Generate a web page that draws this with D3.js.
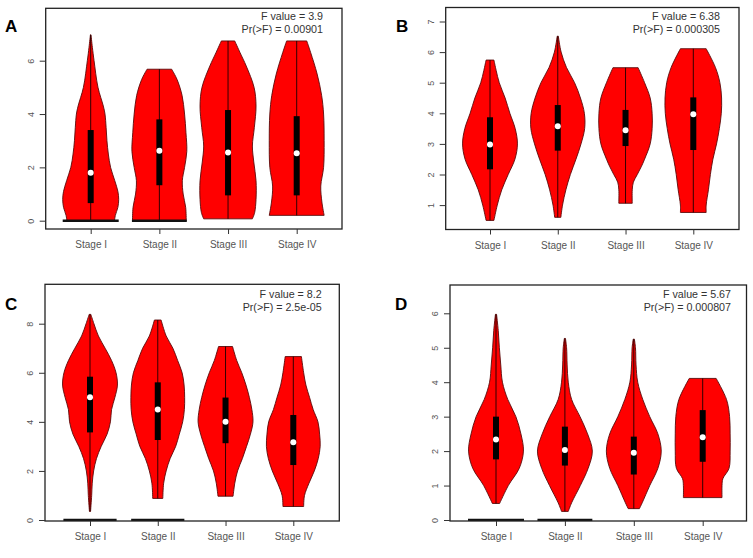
<!DOCTYPE html>
<html><head><meta charset="utf-8">
<script src="https://cdn.jsdelivr.net/npm/d3@7/dist/d3.min.js"></script>
<style>body{margin:0;background:#fff}svg{display:block}</style>
</head><body>
<svg id="c" width="753" height="558"></svg>
<script>
// ---------- DATA ----------
const stages = ["Stage I", "Stage II", "Stage III", "Stage IV"];
const panelLabels = ["A", "B", "C", "D"];
const fValues = ["3.9", "6.38", "8.2", "5.67"];
const pValues = ["0.00901", "0.000305", "2.5e-05", "0.000807"];
const yTicksA = [0, 2, 4, 6];
const yTicksB = [1, 2, 3, 4, 5, 6, 7];
const yTicksC = [0, 2, 4, 6, 8];
const yTicksD = [0, 1, 2, 3, 4, 5, 6];

// violin profiles: [value, relative half-width]
const violinA = [
  [[0,0.85],[0.2,0.88],[0.5,0.97],[0.8,1.0],[1.1,0.97],[1.5,0.86],[2.0,0.71],[2.5,0.63],[3.0,0.58],[3.5,0.55],[4.0,0.51],[4.3,0.45],[5.0,0.26],[6.0,0.12],[6.5,0.06],[6.97,0.01]],
  [[0,0.96],[0.5,0.94],[1.0,0.85],[1.5,0.82],[2.0,0.9],[2.6,0.98],[3.3,0.95],[4.0,0.9],[4.7,0.81],[5.3,0.63],[5.68,0.44]],
  [[0.07,0.87],[0.3,0.95],[0.8,1.0],[1.5,1.0],[2.2,0.92],[2.8,0.87],[3.5,0.94],[4.3,1.0],[5.0,0.93],[5.8,0.65],[6.3,0.43],[6.74,0.24]],
  [[0.2,0.98],[0.7,0.9],[1.3,0.86],[2.0,0.96],[3.0,0.98],[4.0,0.96],[4.7,0.89],[5.5,0.73],[6.3,0.5],[6.74,0.36]]
];
const violinB = [
  [[0.5,0.14],[1.0,0.26],[1.5,0.42],[2.0,0.65],[2.5,0.89],[3.0,0.98],[3.5,0.9],[4.0,0.71],[4.5,0.54],[5.0,0.33],[5.4,0.22],[5.74,0.14]],
  [[0.6,0.11],[1.0,0.17],[1.5,0.29],[2.0,0.45],[2.5,0.65],[3.0,0.83],[3.5,0.96],[4.0,0.95],[4.5,0.81],[5.0,0.6],[5.5,0.31],[6.0,0.12],[6.52,0.02]],
  [[1.06,0.24],[1.5,0.24],[1.75,0.28],[2.0,0.42],[2.25,0.56],[2.5,0.68],[3.0,0.88],[3.5,0.95],[4.0,0.95],[4.5,0.88],[5.0,0.68],[5.49,0.45]],
  [[0.76,0.46],[1.0,0.46],[1.5,0.54],[2.0,0.61],[2.5,0.7],[3.0,0.83],[3.5,0.93],[4.0,1.0],[4.5,1.01],[5.0,0.95],[5.5,0.79],[6.11,0.46]]
];
const violinC = [
  [[0.35,0.02],[1.0,0.06],[1.5,0.08],[2.0,0.13],[2.5,0.23],[3.0,0.4],[3.5,0.61],[4.0,0.73],[4.5,0.77],[5.0,0.89],[5.5,0.98],[6.0,0.93],[6.5,0.77],[7.0,0.54],[7.5,0.3],[8.0,0.14],[8.38,0.03]],
  [[0.88,0.18],[1.5,0.21],[2.0,0.3],[2.5,0.44],[3.0,0.64],[3.5,0.77],[4.0,0.89],[4.5,0.95],[5.0,0.96],[5.5,0.94],[6.0,0.87],[6.5,0.71],[7.0,0.54],[7.5,0.3],[8.15,0.12]],
  [[0.97,0.27],[1.5,0.33],[2.0,0.43],[2.5,0.6],[3.0,0.75],[3.5,0.89],[4.0,0.98],[4.5,0.94],[5.0,0.85],[5.5,0.73],[6.0,0.58],[6.5,0.4],[7.07,0.25]],
  [[0.55,0.37],[1.0,0.4],[1.5,0.56],[2.0,0.75],[2.5,0.89],[3.0,0.96],[3.5,0.94],[4.0,0.88],[4.5,0.71],[5.0,0.58],[5.5,0.45],[6.0,0.37],[6.66,0.29]]
];
const violinD = [
  [[0.48,0.13],[1.0,0.44],[1.5,0.83],[2.0,0.98],[2.5,0.89],[3.0,0.71],[3.5,0.42],[4.0,0.23],[4.5,0.17],[5.0,0.12],[5.5,0.08],[5.97,0.02]],
  [[0.25,0.12],[0.5,0.24],[1.0,0.55],[1.5,0.83],[2.0,0.98],[2.5,0.81],[3.0,0.54],[3.5,0.24],[4.0,0.12],[4.5,0.08],[5.0,0.06],[5.27,0.02]],
  [[0.33,0.2],[0.5,0.3],[1.0,0.57],[1.5,0.86],[2.0,0.98],[2.5,0.86],[3.0,0.57],[3.5,0.32],[4.0,0.14],[4.5,0.08],[5.0,0.06],[5.25,0.02]],
  [[0.65,0.69],[1.0,0.69],[1.2,0.72],[1.5,0.94],[2.0,0.98],[2.5,0.98],[3.0,0.96],[3.5,0.85],[4.11,0.48]]
];
// box: [q1, median, q3]
const boxA = [[0.66,1.8,3.4],[1.33,2.62,3.8],[0.95,2.56,4.15],[0.95,2.53,3.92]];
const boxB = [[2.17,2.98,3.87],[2.78,3.58,4.27],[2.93,3.45,4.11],[2.8,3.97,4.52]];
const boxC = [[3.57,5.0,5.84],[3.26,4.5,5.61],[3.13,4.0,4.99],[2.24,3.17,4.28]];
const boxD = [[1.76,2.34,3.0],[1.58,2.03,2.71],[1.32,1.95,2.42],[1.69,2.4,3.19]];
// relative half-width of the black line at zero (0 = none)
const zeroA = [1.0, 0.98, 0, 0];
const zeroB = [0, 0, 0, 0];
const zeroC = [0.95, 0.95, 0, 0];
const zeroD = [1.0, 0.98, 0, 0];

// ---------- LAYOUT ----------
const layouts = [
  {box:[45.7,8.3,342,229], yRef:[[0,220.7],[6,60.7]], xRef:[90.7,296.7], ticks:yTicksA, violins:violinA, boxes:boxA, zero:zeroA, letter:[5,31.5], ann:[323,20,33]},
  {box:[445.7,7.5,739,229.5], yRef:[[1,205.1],[7,21.5]], xRef:[490,693.3], ticks:yTicksB, violins:violinB, boxes:boxB, zero:zeroB, letter:[396,31.5], ann:[720,19.5,32.7]},
  {box:[45,284.3,339.3,521], yRef:[[0,520],[8,323.7]], xRef:[90,293.3], ticks:yTicksC, violins:violinC, boxes:boxC, zero:zeroC, letter:[5,310], ann:[321.7,298.3,311]},
  {box:[450,285,746.5,521], yRef:[[0,520],[6,313.3]], xRef:[496,702.7], ticks:yTicksD, violins:violinD, boxes:boxD, zero:zeroD, letter:[395,310], ann:[731,298.3,311]}
];

const svg = d3.select("#c");
const font = "'Liberation Sans', Arial, sans-serif";

layouts.forEach((L, pi) => {
  const [bx0, by0, bx1, by1] = L.box;
  const y = d3.scaleLinear().domain([L.yRef[0][0], L.yRef[1][0]]).range([L.yRef[0][1], L.yRef[1][1]]);
  const x = d3.scaleLinear().domain([1, 4]).range(L.xRef);
  const hw = 28; // max half-width in px
  const g = svg.append("g");
  const clipId = "clip" + pi;
  g.append("clipPath").attr("id", clipId).append("rect")
    .attr("x", bx0).attr("y", by0).attr("width", bx1 - bx0).attr("height", by1 - by0);
  const plot = g.append("g").attr("clip-path", `url(#${clipId})`);

  L.violins.forEach((prof, i) => {
    const cx = x(i + 1);
    const area = d3.area()
      .y(d => y(d[0]))
      .x0(d => cx - d[1] * hw)
      .x1(d => cx + d[1] * hw)
      .curve(d3.curveCatmullRom.alpha(0.5));
    plot.append("path").datum(prof).attr("d", area)
      .attr("fill", "#ff0000").attr("stroke", "#5a0a0a").attr("stroke-width", 0.9);
    const vmin = prof[0][0], vmax = prof[prof.length - 1][0];
    plot.append("line").attr("x1", cx).attr("x2", cx).attr("y1", y(vmin)).attr("y2", y(vmax))
      .attr("stroke", "#1a0000").attr("stroke-width", 0.9);
    const b = L.boxes[i];
    plot.append("rect").attr("x", cx - 3).attr("width", 6)
      .attr("y", y(b[2])).attr("height", y(b[0]) - y(b[2])).attr("fill", "#000");
    plot.append("circle").attr("cx", cx).attr("cy", y(b[1])).attr("r", 3).attr("fill", "#fff");
    if (L.zero[i] > 0) {
      plot.append("line").attr("x1", cx - L.zero[i] * hw).attr("x2", cx + L.zero[i] * hw)
        .attr("y1", y(0)).attr("y2", y(0)).attr("stroke", "#111").attr("stroke-width", 2.4);
    }
  });

  // frame
  g.append("rect").attr("x", bx0).attr("y", by0).attr("width", bx1 - bx0).attr("height", by1 - by0)
    .attr("fill", "none").attr("stroke", "#222").attr("stroke-width", 1.3);

  // y axis
  const yAxis = d3.axisLeft(y).tickValues(L.ticks).tickSize(6).tickPadding(0).tickFormat(d3.format("d"));
  const ya = g.append("g").attr("transform", `translate(${bx0},0)`).call(yAxis);
  ya.select(".domain").remove();
  ya.selectAll(".tick line").attr("stroke", "#333").attr("stroke-width", 1);
  ya.selectAll(".tick text").attr("x", null).attr("dy", null)
    .attr("text-anchor", "middle")
    .attr("transform", "translate(-15,0) rotate(-90)")
    .attr("dy", "0.35em")
    .attr("font-family", font).attr("font-size", 9).attr("fill", "#555");

  // x axis
  const xAxis = d3.axisBottom(x).tickValues([1, 2, 3, 4]).tickSize(5).tickPadding(7)
    .tickFormat((d) => stages[d - 1]);
  const xa = g.append("g").attr("transform", `translate(0,${by1})`).call(xAxis);
  xa.select(".domain").remove();
  xa.selectAll(".tick line").attr("stroke", "#333").attr("stroke-width", 1);
  xa.selectAll(".tick text").attr("font-family", font).attr("font-size", 10).attr("fill", "#555");

  // annotations
  g.append("text").attr("x", L.ann[0]).attr("y", L.ann[1]).attr("text-anchor", "end")
    .attr("font-family", font).attr("font-size", 10.7).attr("fill", "#333")
    .text("F value = " + fValues[pi]);
  g.append("text").attr("x", L.ann[0]).attr("y", L.ann[2]).attr("text-anchor", "end")
    .attr("font-family", font).attr("font-size", 10.7).attr("fill", "#333")
    .text("Pr(>F) = " + pValues[pi]);

  // panel letter
  svg.append("text").attr("x", L.letter[0]).attr("y", L.letter[1])
    .attr("font-family", font).attr("font-weight", "bold").attr("font-size", 17).attr("fill", "#000")
    .text(panelLabels[pi]);
});
</script>
</body></html>
